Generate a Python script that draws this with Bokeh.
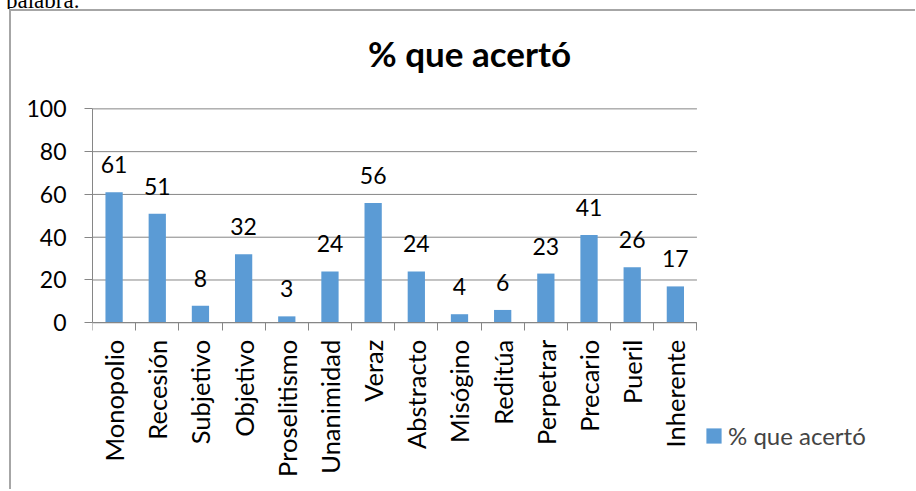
import math
from bokeh.plotting import figure
from bokeh.layouts import column
from bokeh.models import (Range1d, FixedTicker, ColumnDataSource, LabelSet, Label,
                          Legend, LegendItem, LinearAxis, Div)
from bokeh.core.properties import value
from bokeh.embed import file_html
from bokeh.resources import INLINE

categories = ["Monopolio", "Recesión", "Subjetivo", "Objetivo", "Proselitismo",
              "Unanimidad", "Veraz", "Abstracto", "Misógino", "Reditúa",
              "Perpetrar", "Precario", "Pueril", "Inherente"]
values = [61, 51, 8, 32, 3, 24, 56, 24, 4, 6, 23, 41, 26, 17]
series_name = "% que acertó"
y_ticks = [0, 20, 40, 60, 80, 100]

FONT = "Lato"
GRAY = "#868686"

# layout (pixels)
LEFT = 81          # left panel (y-axis labels)
TOP = 12           # top panel (tick-only x axis)
FRAME_W = 823
FRAME_H = 466
PLOT_W = 603       # width taken by the 14 categories
ZERO_FROM_BOTTOM = 168   # pixel distance from frame bottom to y=0
PX_PER_UNIT = 2.13

n = len(categories)
centers = [i + 0.5 for i in range(n)]
src = ColumnDataSource(dict(x=centers, top=values, lab=[str(v) for v in values]))
cat_src = ColumnDataSource(dict(x=centers, y=[0] * n, name=categories))
grid_src = ColumnDataSource(dict(x0=[0] * len(y_ticks), x1=[n] * len(y_ticks),
                                 y=y_ticks))

x_end = n * FRAME_W / PLOT_W
y_start = -ZERO_FROM_BOTTOM / PX_PER_UNIT
y_end = (FRAME_H - ZERO_FROM_BOTTOM) / PX_PER_UNIT

p = figure(frame_width=FRAME_W, frame_height=FRAME_H, output_backend="svg",
           toolbar_location=None, x_axis_location=None,
           x_range=Range1d(0, x_end), y_range=Range1d(y_start, y_end),
           min_border_left=LEFT, min_border_right=0, min_border_top=TOP,
           min_border_bottom=0)
p.styles = {"margin-left": "9px",
            "border-left": "2px solid #a6a6a6", "border-top": "2px solid #a6a6a6"}
p.outline_line_color = None
p.xgrid.visible = False
p.ygrid.visible = False

# horizontal gridlines over the category area
p.segment(x0="x0", x1="x1", y0="y", y1="y", source=grid_src, line_color=GRAY,
          line_width=1)

r = p.vbar(x="x", top="top", width=0.4, source=src, color="#5b9bd5", line_color=None)

# y axis
ya = p.yaxis[0]
ya.ticker = FixedTicker(ticks=y_ticks)
ya.bounds = (0, 100)
ya.axis_line_color = GRAY
ya.major_tick_line_color = GRAY
ya.major_tick_out = 8
ya.major_tick_in = 0
ya.minor_tick_line_color = None
ya.major_label_text_font = FONT
ya.major_label_text_font_size = "23px"
ya.major_label_text_color = "#000000"
ya.major_label_standoff = 18

# category axis line with boundary ticks, drawn at y = 0
xa = LinearAxis(ticker=FixedTicker(ticks=list(range(n + 1))), fixed_location=0,
                bounds=(0, n))
xa.axis_line_color = GRAY
xa.major_tick_line_color = GRAY
xa.major_tick_in = 8
xa.major_tick_out = 0
xa.minor_tick_line_color = None
xa.major_label_text_font_size = "0px"
xa.major_label_text_alpha = 0
xa.major_label_standoff = 0
p.add_layout(xa, "above")

# category labels, rotated, under the axis
p.text(x="x", y="y", text="name", source=cat_src, angle=math.pi / 2,
       text_align="right", text_baseline="middle", y_offset=17,
       text_font=value(FONT), text_font_size=value("25.5px"), text_color="#000000")

labels = LabelSet(x="x", y="top", text="lab", source=src, text_align="center",
                  text_baseline="alphabetic", y_offset=19, text_font=value(FONT),
                  text_font_size=value("23px"), text_color="#000000")
p.add_layout(labels)

title = Label(x=377, y=439, x_units="screen", y_units="screen", text=series_name,
              text_align="center", text_baseline="alphabetic", text_font=FONT,
              text_font_style="bold", text_font_size="35px", text_color="#000000")
p.add_layout(title)

legend = Legend(items=[LegendItem(label=series_name, renderers=[r])],
                location=(612, 41), orientation="vertical",
                label_text_font=FONT, label_text_font_size="24px",
                glyph_width=19, glyph_height=19, padding=0, margin=0,
                spacing=0, label_standoff=5, border_line_color=None,
                background_fill_alpha=0)
p.add_layout(legend, "center")

top_text = Div(text='<span style="display:block;position:relative;top:-11px;left:6px;'
                    'font-family:\'Liberation Serif\';font-size:23px;line-height:23px;'
                    'color:#000;white-space:nowrap;">palabra.</span>',
               width=200, height=9, margin=0, styles={"overflow": "hidden"})

layout = column(top_text, p, spacing=0)
open("out.html", "w").write(file_html(layout, INLINE))
